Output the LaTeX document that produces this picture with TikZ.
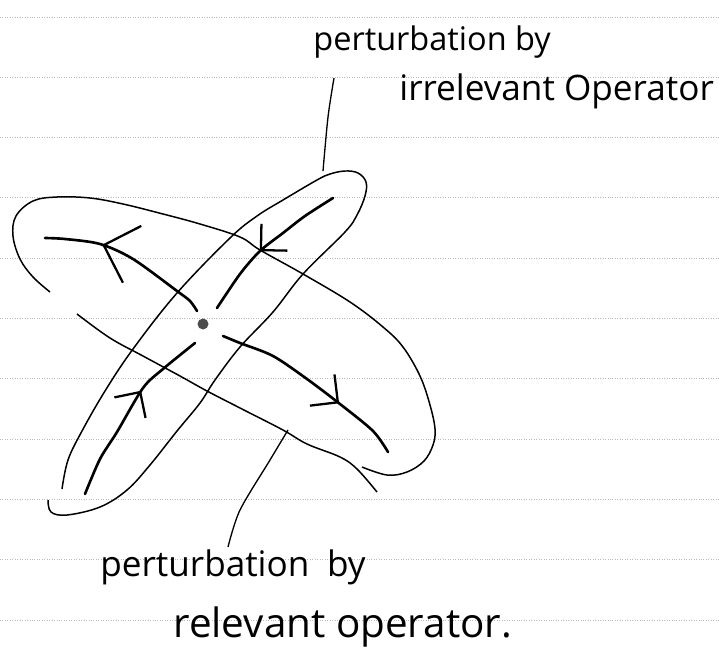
\documentclass[tikz,border=0pt]{standalone}
\usepackage{fontspec}
\setmainfont{Open Sans}
\usetikzlibrary{arrows.meta,decorations.markings}

\begin{document}
\begin{tikzpicture}[
    x=0.02cm, y=-0.02cm,
    rule/.style={gray!55, line width=0.5pt, dash pattern=on 0.5pt off 0.9pt},
    orbit/.style={line width=0.85pt},
    flow/.style 2 args={line width=1.5pt, line cap=round, postaction={decorate},
        decoration={markings, mark=at position #1 with {\arrow{Straight Barb[angle=90:#2, line width=1.3pt]}}}},
    lead/.style={line width=0.75pt},
    hand/.style={inner sep=0pt, anchor=base west, font=\fontsize{18.5}{20}\selectfont},
]
\useasboundingbox (0,0) rectangle (719,646);

% ruled paper
\foreach \k in {0,...,10}
    \draw[rule] (0,{17+60.3*\k}) -- (719,{17+60.3*\k});

% relevant direction (wide loop)
\draw[orbit] plot[smooth, tension=0.6] coordinates {(50,292) (33,277) (20,259) (13,236) (16,216) (33,201) (57,197) (90,198) (123,204) (163,214) (200,224) (240,237) (260,250) (303,274) (350,302) (383,327) (403,347) (420,376) (430,405) (435,429) (433,445) (424,461) (407,472) (387,475) (362,467)};
\draw[orbit] plot[smooth, tension=0.6] coordinates {(77,314) (110,338) (143,356) (180,376) (207,391) (240,408) (283,430) (307,444) (340,457) (357,469) (377,492)};

% irrelevant direction (tall loop)
\draw[orbit] plot[smooth, tension=0.6] coordinates {(62,489) (68,460) (82,431) (105,391) (133,349) (177,293) (230,238) (257,216) (283,200) (317,180) (330,174) (345,171) (358,173) (366,182) (365,196) (357,215) (345,232) (303,274) (273,312) (240,347) (215,380) (200,403) (177,431) (150,465) (127,490) (100,507) (67,515) (51,512) (48,500)};

% flows out of / into the fixed point
\draw[flow={0.67}{24pt}] plot[smooth] coordinates {(197,311) (190,301) (177,291) (133,259) (100,244) (65,239) (45,238)};
\draw[flow={0.66}{16pt}] plot[smooth] coordinates {(223,336) (240,343) (273,356) (307,379) (340,404) (373,431) (388,452)};
\draw[flow={0.56}{15pt}] plot[smooth] coordinates {(333,198) (305,216) (283,233) (260,251) (240,274) (217,308)};
\draw[flow={0.62}{15pt}] plot[smooth] coordinates {(85,494) (100,459) (117,432) (143,388) (163,369) (195,343)};

% fixed point
\fill[black!70] (203,324) circle[radius=5.5];

% labels
\node[hand] (irrA) at (313,50) {perturbation by};
\node[hand, font=\fontsize{20}{22}\selectfont] (irrB) at (399,100) {irrelevant Operator};
\node[hand, font=\fontsize{20}{22}\selectfont] (relA) at (100,576) {perturbation\enspace by};
\node[hand, font=\fontsize{23}{25}\selectfont] (relB) at (173,637) {relevant operator.};

% leaders
\coordinate (irrfoot) at ([shift={(21,28)}]irrA.base west);
\coordinate (btop) at (323,171);
\coordinate (aedge) at (288,430);
\coordinate (relhead) at ([shift={(128,-29)}]relA.base west);
\draw[lead] plot[smooth] coordinates {(irrfoot) (328,117) (btop)};
\draw[lead] plot[smooth] coordinates {(aedge) (270,460) (240,510) (relhead)};

\end{tikzpicture}
\end{document}
